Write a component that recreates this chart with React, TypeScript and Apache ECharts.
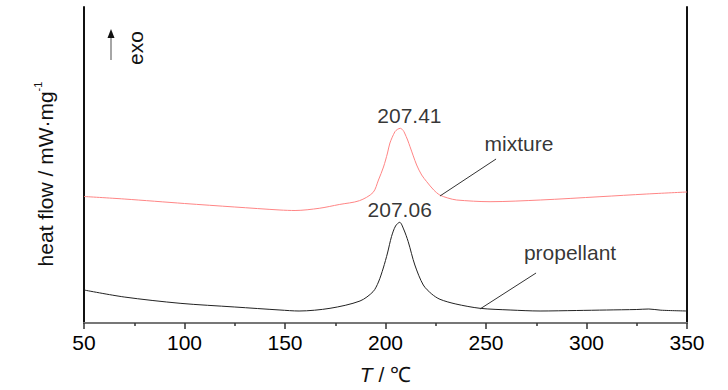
import React, { useEffect, useRef } from "react";
import * as echarts from "echarts";

// Temperature (°C) and heat flow (arbitrary units, exo up)
const mixtureT = [50, 70, 100, 125, 147.5, 155, 167, 177, 187, 193.8, 196.5, 199, 201, 202.2, 204.7, 206, 207.41, 208.8, 209.5, 211, 212.2, 215.5, 218, 220.5, 224, 227, 231, 235.4, 252, 277, 306.7, 330, 350];
const mixtureHF = [126.5, 124, 119.5, 116, 113, 112.5, 114.7, 118.5, 122.3, 130.5, 143, 156, 170, 180, 191.3, 193.7, 194.7, 192.5, 190, 183, 176.3, 158, 148, 141.3, 133, 128, 125, 123, 121.3, 123, 126.3, 129, 131];

const propellantT = [50, 70, 97.8, 125, 147.5, 157, 172.4, 187.3, 193.8, 196.5, 198.9, 201, 203, 205, 207.06, 209, 211.3, 214.6, 218.8, 223, 227.1, 235, 247, 262, 276.9, 295, 310, 325, 331, 337, 350];
const propellantHF = [33, 26, 19.7, 16, 13, 12, 14.7, 22, 31.3, 41, 55, 70, 86.5, 97, 100.7, 94, 81.3, 58, 38, 29, 23.7, 19, 14.7, 13, 12, 12.5, 13, 13.5, 14, 12.8, 12];

const seriesNames = ["mixture", "propellant"];
// label anchor points [T, heat flow] and leader lines [from, to]
const nameLabelPos = [[266.4, 180], [291.8, 71]];
const leaderLines = [
  [[227.1, 127], [255, 164]],
  [[247, 14], [274.9, 50]],
];
const peakLabelShift = [[9, 0], [0, 0]];

const xTicks = { min: 50, max: 350, interval: 50 };
const yRange = { min: 0, max: 316 };

const FONT = "'Liberation Sans', Arial, sans-serif";
const FS = 21;

function peakOf(ts: number[], vs: number[]) {
  let k = 0;
  for (let i = 1; i < vs.length; i++) if (vs[i] > vs[k]) k = i;
  return [ts[k], vs[k]];
}

export default function App() {
  const ref = useRef<HTMLDivElement>(null);
  useEffect(() => {
    if (!ref.current) return;
    const chart = echarts.init(ref.current, null, { renderer: "svg" });
    const mix = mixtureT.map((t, i) => [t, mixtureHF[i]]);
    const prop = propellantT.map((t, i) => [t, propellantHF[i]]);
    const peaks = [peakOf(mixtureT, mixtureHF), peakOf(propellantT, propellantHF)];

    chart.setOption({
      animation: false,
      backgroundColor: "#fff",
      textStyle: { fontFamily: FONT },
      grid: { left: 84, right: 41, top: 7, bottom: 67 },
      xAxis: [
        {
          type: "value",
          min: xTicks.min,
          max: xTicks.max,
          interval: xTicks.interval,
          position: "bottom",
          axisLine: { show: true, lineStyle: { color: "#333", width: 1.5 } },
          axisTick: { show: true, length: 6, lineStyle: { color: "#333", width: 1.5 } },
          minorTick: { show: true, splitNumber: 2, length: 3, lineStyle: { color: "#333", width: 1.5 } },
          splitLine: { show: false },
          axisLabel: { fontSize: FS, color: "#000", margin: 9, fontFamily: FONT },
          name: "{i|T} / ℃",
          nameLocation: "middle",
          nameGap: 41,
          nameTextStyle: {
            fontSize: FS,
            color: "#111",
            fontFamily: FONT,
            rich: { i: { fontSize: FS, fontStyle: "italic", color: "#111", fontFamily: FONT } },
          },
        },
        {
          type: "value",
          min: xTicks.min,
          max: xTicks.max,
          position: "top",
          axisLine: { show: true, lineStyle: { color: "#777", width: 2 } },
          axisTick: { show: false },
          axisLabel: { show: false },
          splitLine: { show: false },
        },
      ],
      yAxis: [
        {
          type: "value",
          min: yRange.min,
          max: yRange.max,
          axisLine: { show: true, lineStyle: { color: "#111", width: 2 } },
          axisTick: { show: false },
          axisLabel: { show: false },
          splitLine: { show: false },
        },
        {
          type: "value",
          min: yRange.min,
          max: yRange.max,
          position: "right",
          axisLine: { show: true, lineStyle: { color: "#111", width: 2 } },
          axisTick: { show: false },
          axisLabel: { show: false },
          splitLine: { show: false },
        },
      ],
      series: [
        {
          name: seriesNames[0],
          type: "line",
          data: mix,
          smooth: 0.3,
          showSymbol: false,
          lineStyle: { color: "#ff8585", width: 1 },
          z: 3,
        },
        {
          name: seriesNames[1],
          type: "line",
          data: prop,
          smooth: 0.3,
          showSymbol: false,
          lineStyle: { color: "#222", width: 1 },
          z: 3,
        },
        {
          name: "peaks",
          type: "scatter",
          symbolSize: 1,
          itemStyle: { color: "transparent" },
          silent: true,
          data: peaks.map((p, i) => ({
            value: p,
            label: {
              show: true,
              position: "top",
              distance: 2,
              offset: peakLabelShift[i],
              formatter: p[0].toFixed(2),
              fontSize: FS,
              color: "#000",
              fontFamily: FONT,
            },
          })),
        },
        {
          name: "names",
          type: "scatter",
          symbolSize: 1,
          itemStyle: { color: "transparent" },
          silent: true,
          data: nameLabelPos.map((p, i) => ({
            value: p,
            label: {
              show: true,
              position: "inside",
              formatter: seriesNames[i],
              fontSize: FS,
              color: "#000",
              fontFamily: FONT,
            },
          })),
          markLine: {
            silent: true,
            symbol: ["none", "none"],
            label: { show: false },
            lineStyle: { color: "#333", width: 1, type: "solid" },
            data: leaderLines.map((l) => [{ coord: l[0] }, { coord: l[1] }]),
          },
        },
      ],
      graphic: [
        { type: "line", shape: { x1: 111, y1: 60, x2: 111, y2: 36 }, style: { stroke: "#888", lineWidth: 1.5 } },
        { type: "polygon", shape: { points: [[107.5, 38], [114.5, 38], [111, 29]] }, style: { fill: "#111" } },
        {
          type: "text",
          x: 135,
          y: 48,
          rotation: Math.PI / 2,
          style: { text: "exo", fontSize: FS, fontFamily: FONT, fill: "#111", align: "center", verticalAlign: "middle" },
        },
        {
          type: "text",
          x: 45,
          y: 174,
          rotation: Math.PI / 2,
          style: {
            text: "{a|heat flow / mW·mg}{s|-1}",
            fontFamily: FONT,
            fill: "#111",
            align: "center",
            verticalAlign: "middle",
            rich: {
              a: { fontSize: FS, lineHeight: 26, fill: "#111", fontFamily: FONT },
              s: { fontSize: 11, lineHeight: 26, fill: "#111", fontFamily: FONT, verticalAlign: "top", padding: [0, 0, 12, 0] },
            },
          },
        },
      ],
    });
    return () => chart.dispose();
  }, []);
  return <div ref={ref} style={{ position: "absolute", left: 0, top: 0, width: 728, height: 390 }} />;
}
